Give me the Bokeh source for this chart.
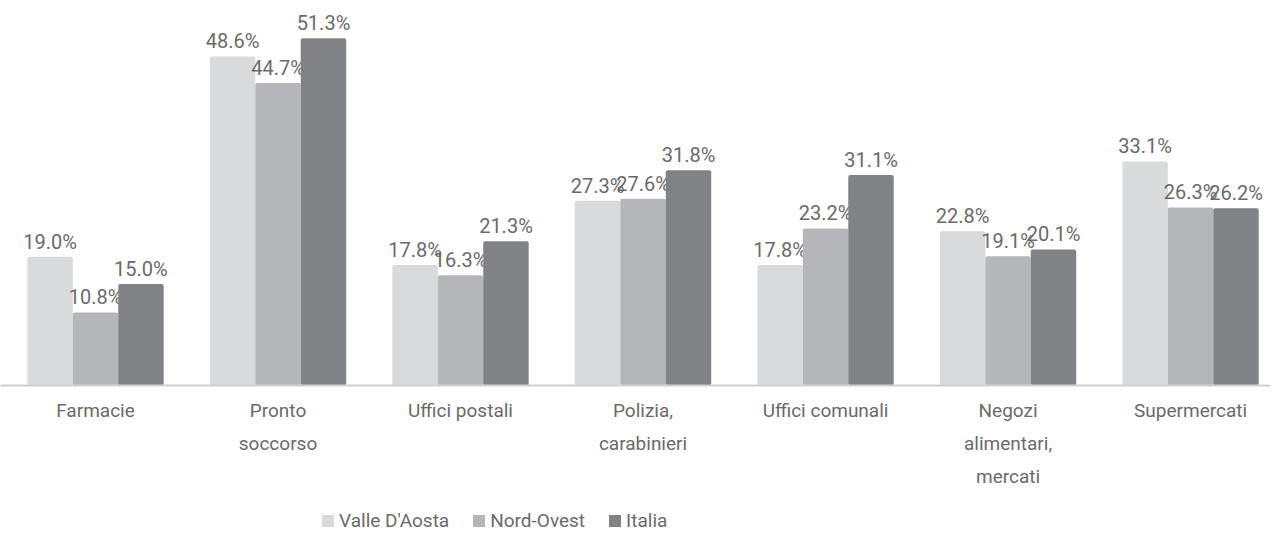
from bokeh.plotting import figure
from bokeh.models import ColumnDataSource, Range1d, FixedTicker, Legend, LegendItem
from bokeh.layouts import column
from bokeh.embed import file_html
from bokeh.resources import INLINE
from bokeh.core.properties import value
from bokeh.transform import dodge

categories = ["Farmacie", "Pronto\nsoccorso", "Uffici postali", "Polizia,\ncarabinieri",
              "Uffici comunali", "Negozi\nalimentari,\nmercati", "Supermercati"]
series = ["Valle D'Aosta", "Nord-Ovest", "Italia"]
valle = [19.0, 48.6, 17.8, 27.3, 17.8, 22.8, 33.1]
nord = [10.8, 44.7, 16.3, 27.6, 23.2, 19.1, 26.3]
italia = [15.0, 51.3, 21.3, 31.8, 31.1, 20.1, 26.2]
colors = ["#d9dadc", "#b5b6b9", "#818286"]

FONT = "Roboto"
TXT = "#6a6a6a"

idx = list(range(len(categories)))
src = ColumnDataSource(dict(
    x=idx,
    valle=valle, nord=nord, italia=italia,
    valle_l=[f"{v:.1f}%" for v in valle],
    nord_l=[f"{v:.1f}%" for v in nord],
    italia_l=[f"{v:.1f}%" for v in italia],
))

p = figure(width=1270, height=502, output_backend="svg", toolbar_location=None,
           x_range=Range1d(-0.5205, 6.438), y_range=Range1d(0, 56.87),
           min_border_left=0, min_border_right=0, min_border_top=0, min_border_bottom=117)
p.outline_line_color = None
p.xgrid.visible = False
p.ygrid.visible = False
p.yaxis.visible = False
p.background_fill_color = "white"
p.border_fill_color = "white"

bw = 0.249
offs = [-bw, 0.0, bw]
keys = ["valle", "nord", "italia"]
for k, off, col in zip(keys, offs, colors):
    p.vbar(x=dodge("x", off), top=k, width=bw, bottom=0, source=src,
           fill_color=col, line_color=None, border_radius=2)
    p.text(x=dodge("x", off), y=k, text=k + "_l", source=src,
           text_font=value(FONT), text_font_size="20px", text_color=TXT,
           text_align="center", text_baseline="bottom", y_offset=-3)

ax = p.xaxis[0]
ax.ticker = FixedTicker(ticks=idx)
ax.major_label_overrides = {i: c for i, c in zip(idx, categories)}
ax.major_tick_line_color = None
ax.minor_tick_line_color = None
ax.axis_line_color = "#cfcfcf"
ax.axis_line_width = 2
ax.major_label_text_font = FONT
ax.major_label_text_font_size = "19px"
ax.major_label_text_color = TXT
ax.major_label_text_line_height = 1.45
ax.major_label_standoff = 7

# legend strip (same series, bars kept far out of its view; only the legend shows)
p2 = figure(width=1270, height=30, output_backend="svg", toolbar_location=None,
            x_range=Range1d(-0.5205, 6.438), y_range=Range1d(1000, 1001),
            x_axis_location=None, y_axis_location=None, min_border=0)
p2.outline_line_color = None
p2.xgrid.visible = False
p2.ygrid.visible = False
items = []
for k, off, col, name in zip(keys, offs, colors, series):
    r = p2.vbar(x=dodge("x", off), top=k, width=bw, bottom=0, source=src,
                fill_color=col, line_color=None)
    items.append(LegendItem(label=name, renderers=[r]))
legend = Legend(items=items, orientation="horizontal", location=(320, 0),
                label_text_font=FONT, label_text_font_size="19px", label_text_color=TXT,
                glyph_width=15, glyph_height=15, spacing=22, label_standoff=4,
                border_line_color=None, background_fill_alpha=0, padding=2, margin=0)
p2.add_layout(legend, "center")

open("out.html", "w").write(file_html(column(p, p2, spacing=0), INLINE))
